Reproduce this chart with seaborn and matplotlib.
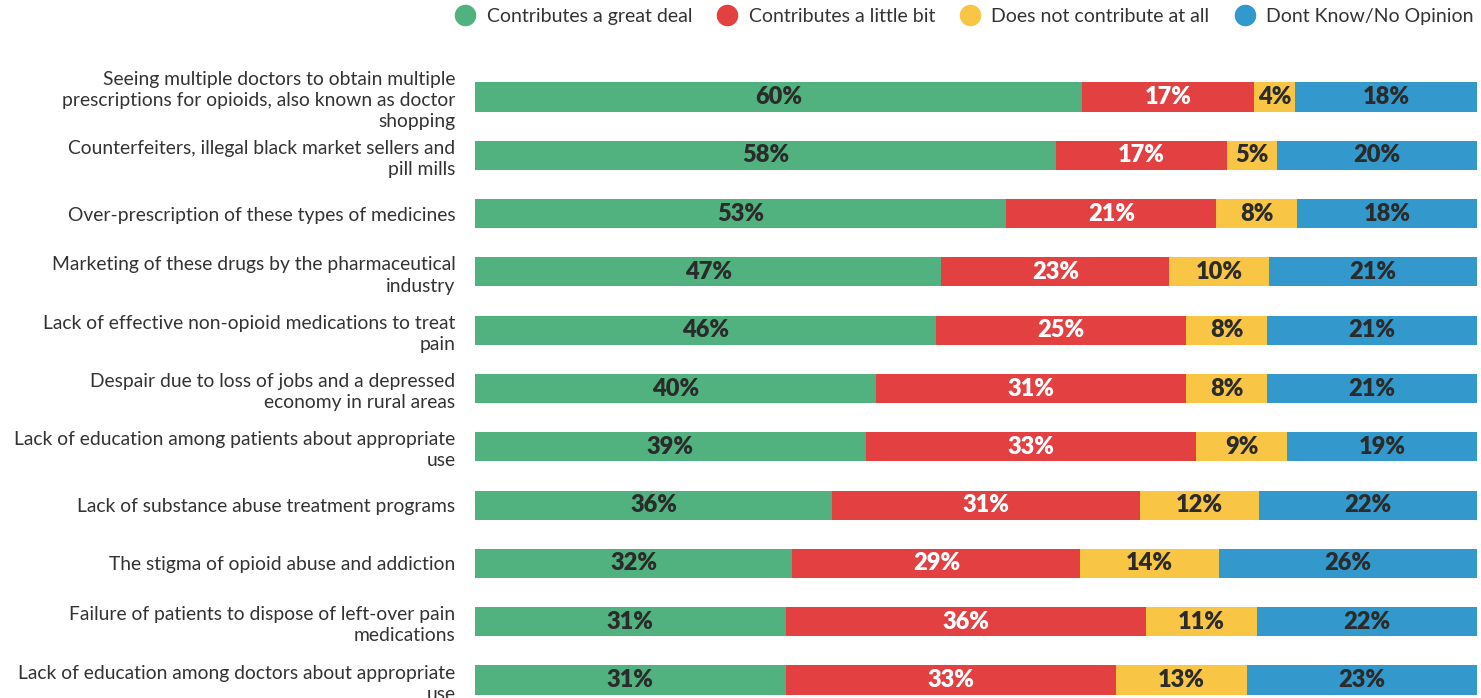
import numpy as np
import pandas as pd
import seaborn as sns
import matplotlib.pyplot as plt
from matplotlib.lines import Line2D

causes = [
    "Seeing multiple doctors to obtain multiple\nprescriptions for opioids, also known as doctor\nshopping",
    "Counterfeiters, illegal black market sellers and\npill mills",
    "Over-prescription of these types of medicines",
    "Marketing of these drugs by the pharmaceutical\nindustry",
    "Lack of effective non-opioid medications to treat\npain",
    "Despair due to loss of jobs and a depressed\neconomy in rural areas",
    "Lack of education among patients about appropriate\nuse",
    "Lack of substance abuse treatment programs",
    "The stigma of opioid abuse and addiction",
    "Failure of patients to dispose of left-over pain\nmedications",
    "Lack of education among doctors about appropriate\nuse",
]
great_deal = [60, 58, 53, 47, 46, 40, 39, 36, 32, 31, 31]
little_bit = [17, 17, 21, 23, 25, 31, 33, 31, 29, 36, 33]
not_at_all = [4, 5, 8, 10, 8, 8, 9, 12, 14, 11, 13]
dont_know = [18, 20, 18, 21, 21, 21, 19, 22, 26, 22, 23]

series = ["Contributes a great deal", "Contributes a little bit",
          "Does not contribute at all", "Dont Know/No Opinion"]
colors = ["#52b27f", "#e24041", "#f8c545", "#3399cc"]
text_colors = ["#2b2b2b", "white", "#2b2b2b", "#2b2b2b"]

df = pd.DataFrame({"cause": causes, series[0]: great_deal, series[1]: little_bit,
                   series[2]: not_at_all, series[3]: dont_know})
vals = df[series].to_numpy(dtype=float)
shares = vals / vals.sum(axis=1, keepdims=True) * 100
cum = np.cumsum(shares, axis=1)

sns.set_style("white")
plt.rcParams["font.family"] = ["Lato", "DejaVu Sans"]

fig = plt.figure(figsize=(14.81, 6.98), dpi=100)
ax = fig.add_axes([475 / 1481, 0, 1002 / 1481, 638 / 698])

# stacked bars: draw cumulative totals from the right-most segment down
for i in range(3, -1, -1):
    sns.barplot(x=cum[:, i], y=df["cause"], color=colors[i], orient="h",
                width=0.5, ax=ax, saturation=1, linewidth=0)

for r in range(len(causes)):
    for i in range(4):
        start = cum[r, i] - shares[r, i]
        ax.text(start + shares[r, i] / 2, r, f"{int(vals[r, i])}%",
                ha="center", va="center", fontsize=17, fontweight="heavy",
                color=text_colors[i])

ax.set_xlim(0, 100)
ax.set_ylim(10 + 18 / 58.3, -37 / 58.3)
ax.set_xlabel("")
ax.set_ylabel("")
ax.set_xticks([])
ax.set_yticks(range(len(causes)))
ax.set_yticklabels(causes, ha="right", multialignment="right", linespacing=1.3)
ax.tick_params(axis="y", length=0, pad=14, labelsize=13.9, labelcolor="#333333")
sns.despine(ax=ax, left=True, bottom=True)

handles = [Line2D([0], [0], marker="o", linestyle="", markersize=14.5,
                  markerfacecolor=c, markeredgecolor=c) for c in colors]
fig.legend(handles, series, loc="upper right", bbox_to_anchor=(1491 / 1481, 1.014),
           ncol=4, frameon=False, fontsize=14, handletextpad=0.6,
           columnspacing=1.3, labelcolor="#333333", handlelength=1.0)

fig.savefig("out.png", dpi=100)
